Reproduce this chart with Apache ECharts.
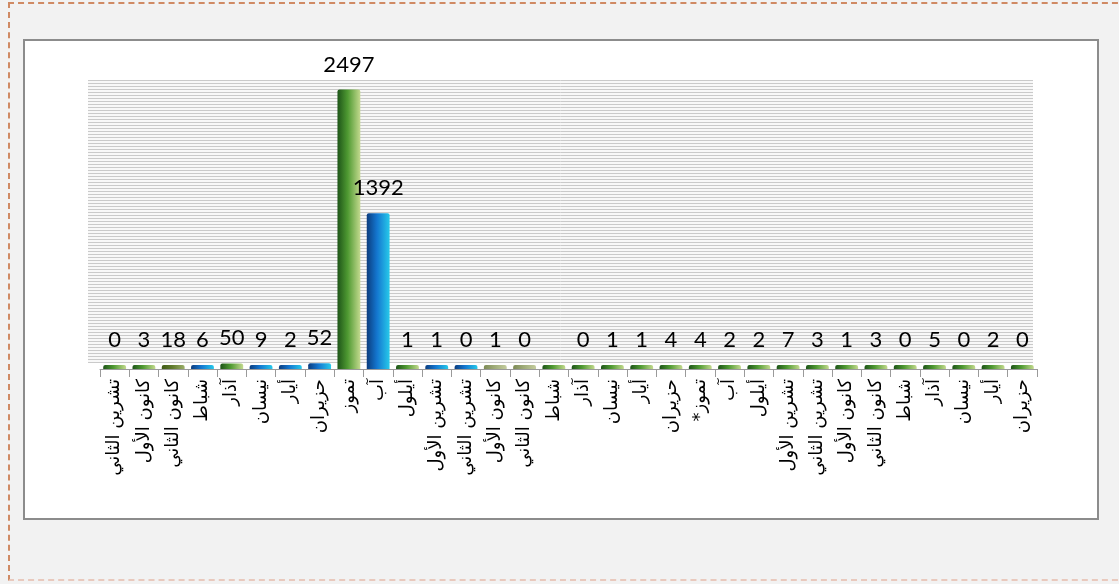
<!DOCTYPE html>
<html>
<head>
<meta charset="utf-8">
<script src="https://cdn.jsdelivr.net/npm/echarts@6/dist/echarts.min.js"></script>
<style>
  html, body {margin: 0; padding: 0; background: #f2f2f2; overflow: hidden;}
  #frame {position: absolute; left: 8px; top: 2px; width: 1130px; height: 579px;
    border: 2px dashed #d08a64; border-bottom-color: #e9c9bd; box-sizing: border-box;}
  #box {position: absolute; left: 23px; top: 39px; width: 1076px; height: 481px;
    background: #fff; border: 2px solid #8c8c8c; box-sizing: border-box;}
  #main {position: absolute; left: 0; top: 0; width: 1119px; height: 584px;}
</style>
</head>
<body>
<div id="frame"></div>
<div id="box"></div>
<div id="main" dir="rtl"></div>
<script>
// الأشهر
const months = [
    'تشرين الثاني', 'كانون الأول', 'كانون الثاني', 'شباط', 'آذار', 'نيسان', 'أيار', 'حزيران',
    'تموز', 'آب', 'أيلول', 'تشرين الأول', 'تشرين الثاني', 'كانون الأول', 'كانون الثاني', 'شباط',
    'آذار', 'نيسان', 'أيار', 'حزيران', 'تموز*', 'آب', 'أيلول', 'تشرين الأول',
    'تشرين الثاني', 'كانون الأول', 'كانون الثاني', 'شباط', 'آذار', 'نيسان', 'أيار', 'حزيران'
];
// null = no label shown in the picture
const counts = [
    0, 3, 18, 6, 50, 9, 2, 52,
    2497, 1392, 1, 1, 0, 1, 0, null,
    0, 1, 1, 4, 4, 2, 2, 7,
    3, 1, 3, 0, 5, 0, 2, 0
];
// colour group of each bar (g = green, b = blue, o = dark olive, k = khaki)
const barGroup = [
    'g', 'g', 'o', 'b', 'g', 'b', 'b', 'b',
    'g', 'b', 'g', 'b', 'b', 'k', 'k', 'g',
    'g', 'g', 'g', 'g', 'g', 'g', 'g', 'g',
    'g', 'g', 'g', 'g', 'g', 'g', 'g', 'g'
];

const grad = (a, b, c) => new echarts.graphic.LinearGradient(0, 0, 1, 0, [
    {offset: 0, color: a}, {offset: 0.45, color: b}, {offset: 1, color: c}
]);
const palette = {
    g: grad('#1d5418', '#4f9a32', '#c3d98e'),
    o: grad('#3f5a16', '#5f7a2c', '#9caf6a'),
    b: grad('#0b3c7e', '#1477d0', '#27c9ea'),
    k: grad('#7d8a55', '#9eab78', '#c4cc9e')
};

const chart = echarts.init(document.getElementById('main'));

const barData = counts.map((v, i) => {
    const item = {value: v === null ? 0 : v, itemStyle: {color: palette[barGroup[i]]}};
    if (v === null) item.label = {show: false};
    return item;
});

chart.setOption({
    animation: false,
    grid: [
        {left: 100, right: 82, top: 78, bottom: 215},
        // back wall
        {left: 88, right: 86, top: 80, bottom: 222, show: true, backgroundColor: '#f8f8f8', borderWidth: 0}
    ],
    xAxis: [{
        type: 'category',
        gridIndex: 0,
        data: months,
        axisLine: {lineStyle: {color: '#9a9a9a', width: 1}},
        axisTick: {show: true, length: 8, lineStyle: {color: '#9a9a9a'}},
        axisLabel: {
            interval: 0, rotate: 90, margin: 10,
            color: '#000', fontSize: 18, fontFamily: 'DejaVu Sans'
        },
        z: 3
    }, {
        type: 'category', gridIndex: 1, show: false, data: months
    }],
    yAxis: [{
        type: 'value', gridIndex: 0, min: 0, max: 2600,
        show: false, splitLine: {show: false}
    }, {
        type: 'value', gridIndex: 1, min: 0, max: 94, interval: 1,
        axisLine: {show: false}, axisTick: {show: false}, axisLabel: {show: false},
        splitLine: {show: true, lineStyle: {color: '#cacaca', width: 1}}
    }],
    series: [{
        type: 'bar',
        xAxisIndex: 0,
        yAxisIndex: 0,
        data: barData,
        barCategoryGap: '22%',
        barMinHeight: 4,
        z: 4,
        itemStyle: {borderRadius: [2, 2, 0, 0]},
        label: {
            show: true, position: 'top', distance: 14,
            color: '#000', fontSize: 22, fontFamily: 'Lato'
        }
    }]
});
</script>
</body>
</html>
